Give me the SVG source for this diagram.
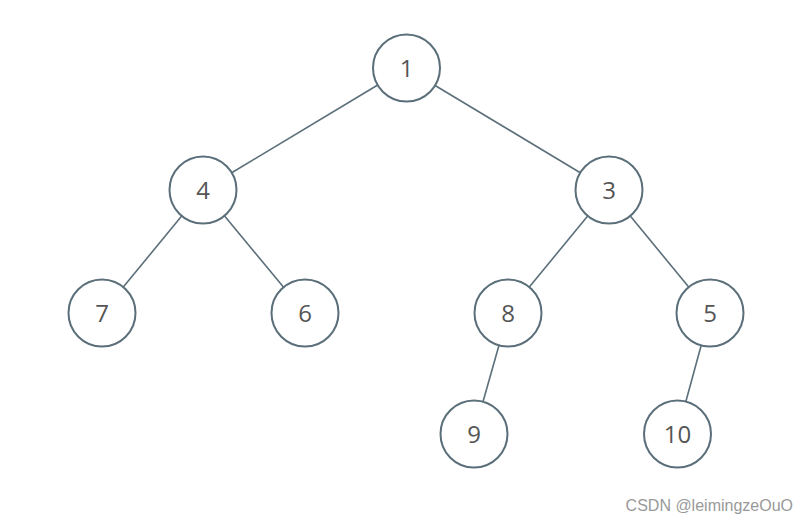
<svg xmlns="http://www.w3.org/2000/svg" width="808" height="524" viewBox="0 0 808 524">
<style>
.n circle{fill:#fff;stroke:#5b6f7a;stroke-width:2}
.n text{font-family:"Open Sans","Noto Sans","DejaVu Sans",sans-serif;font-size:24px;fill:#555;text-anchor:middle}
#edges line{stroke:#5b6f7a;stroke-width:1.6}
.wm{font-family:"Liberation Sans",Arial,sans-serif;font-size:16px;fill:#999}
</style>
<rect width="808" height="524" fill="#fff"/>
<g id="edges">
<line x1="377.3" y1="85.3" x2="231.7" y2="172.7"/>
<line x1="434.7" y1="85.3" x2="580.3" y2="172.7"/>
<line x1="181.7" y1="215.9" x2="123.3" y2="287.1"/>
<line x1="224.4" y1="215.8" x2="283.6" y2="287.2"/>
<line x1="587.7" y1="215.9" x2="529.3" y2="287.1"/>
<line x1="630.3" y1="215.9" x2="688.7" y2="287.1"/>
<line x1="499" y1="345.3" x2="483" y2="401.7"/>
<line x1="701.2" y1="345.3" x2="685.8" y2="401.7"/>
</g>
<g id="n1" class="n"><circle cx="406.5" cy="68" r="33.5"/><text x="406.5" y="77">1</text></g>
<g id="n4" class="n"><circle cx="203" cy="190" r="33.5"/><text x="203" y="199">4</text></g>
<g id="n3" class="n"><circle cx="609" cy="190" r="33.5"/><text x="609" y="199">3</text></g>
<g id="n7" class="n"><circle cx="102" cy="313" r="33.5"/><text x="102" y="322">7</text></g>
<g id="n6" class="n"><circle cx="305" cy="313" r="33.5"/><text x="305" y="322">6</text></g>
<g id="n8" class="n"><circle cx="508" cy="313" r="33.5"/><text x="508" y="322">8</text></g>
<g id="n5" class="n"><circle cx="710" cy="313" r="33.5"/><text x="710" y="322">5</text></g>
<g id="n9" class="n"><circle cx="474" cy="434" r="33.5"/><text x="474" y="443">9</text></g>
<g id="n10" class="n"><circle cx="677.5" cy="434" r="33.5"/><text x="677.5" y="443">10</text></g>
<text class="wm" x="793" y="511" text-anchor="end">CSDN @leimingzeOuO</text>
</svg>
